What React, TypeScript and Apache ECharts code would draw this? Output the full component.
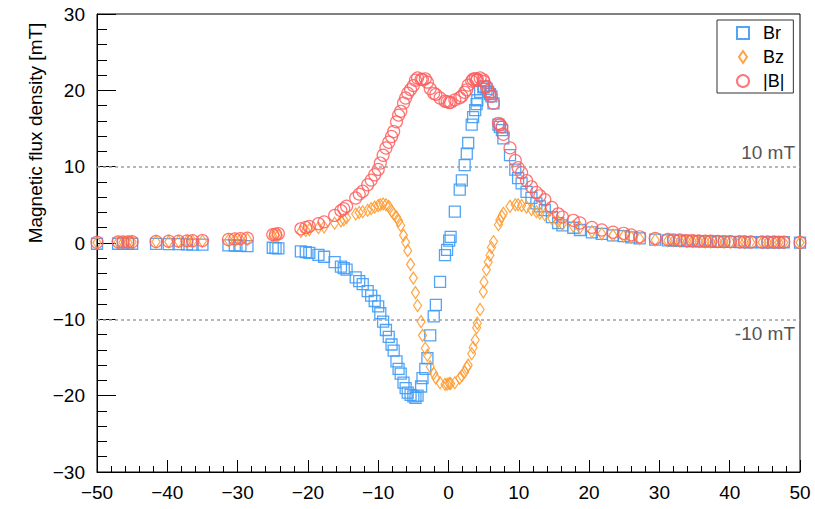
import React, { useEffect, useRef } from "react";
import * as echarts from "echarts";

const xs = [
  -50, -47.0, -46.3, -45.6, -45.0, -41.6, -39.8, -38.4, -37.2, -36.4, -35.0, -31.3, -30.4, -29.6, -28.6,
  -25.0, -24.6, -24.2, -21.0, -20.3, -19.8, -18.5, -17.7, -16.2, -15.3, -14.9, -14.5, -13.2, -12.7, -12.2,
  -11.5, -11.0, -10.5, -10.0, -9.7, -9.3, -8.9, -8.5, -8.1, -7.8, -7.4, -7.1, -6.8, -6.4, -6.1, -5.8, -5.4,
  -5.0, -4.7, -4.4, -3.9, -3.7, -3.3, -3.0, -2.6, -2.1, -1.8, -1.2, -0.5, -0.2, 0.1, 0.3, 0.9, 1.6, 1.9,
  2.3, 2.6, 2.8, 3.3, 3.5, 3.8, 4.0, 4.1, 4.5, 4.95, 5.05, 5.4, 5.65, 5.9, 6.1, 6.4, 7.1, 7.3, 7.6, 7.8,
  8.75, 9.5, 9.9, 10.4, 11.1, 11.8, 12.5, 13.0, 13.7, 14.7, 15.6, 16.2, 17.75, 18.7, 20.4, 21.8, 23.4,
  24.9, 26.0, 27.2, 29.4, 31.2, 32.0, 32.9, 33.9, 34.7, 35.6, 36.5, 37.3, 38.3, 39.2, 40.1, 41.4, 42.1,
  43.0, 44.6, 45.4, 46.3, 47.0, 47.7, 50,
];

const br = [
  -0.1, -0.1, -0.1, -0.1, -0.1, -0.12, -0.15, -0.15, -0.18, -0.2, -0.2, -0.3, -0.33, -0.36, -0.4,
  -0.62, -0.66, -0.7, -1.1, -1.2, -1.3, -1.55, -1.8, -2.5, -3.1, -3.3, -3.5, -4.5, -5.0, -5.4,
  -6.3, -6.9, -7.6, -8.3, -9.2, -10.3, -11.4, -12.3, -13.3, -14.1, -15.5, -16.5, -17.1, -18.3, -19.0, -19.6, -19.9,
  -20.1, -20.3, -20.0, -18.8, -17.7, -16.5, -15.1, -12.1, -9.6, -8.1, -5.1, -1.6, -0.9, 0.3, 0.8, 4.1, 7.0, 8.2,
  10.2, 11.7, 13.1, 15.5, 16.5, 17.4, 18.2, 18.7, 19.8, 20.4, 20.5, 20.2, 19.8, 19.5, 19.2, 18.3, 15.5, 15.2, 14.8, 13.7,
  11.5, 9.6, 8.5, 7.8, 6.7, 5.9, 5.2, 4.8, 4.3, 3.4, 2.6, 2.3, 2.0, 1.7, 1.4, 1.2, 1.0,
  0.9, 0.75, 0.6, 0.45, 0.35, 0.3, 0.3, 0.25, 0.25, 0.2, 0.2, 0.2, 0.15, 0.15, 0.15, 0.12, 0.12,
  0.1, 0.1, 0.1, 0.1, 0.1, 0.1, 0.05,
];

const bz = [
  0.05, 0.1, 0.1, 0.1, 0.12, 0.15, 0.18, 0.2, 0.22, 0.22, 0.25, 0.35, 0.4, 0.45, 0.5,
  0.9, 0.95, 1.0, 1.5, 1.65, 1.75, 2.0, 2.1, 2.6, 2.9, 3.05, 3.3, 3.8, 4.0, 4.1,
  4.3, 4.5, 4.7, 4.9, 5.0, 5.1, 5.0, 4.8, 4.2, 3.8, 3.4, 2.9, 2.3, 1.0, 0.1, -1.0, -2.8,
  -4.6, -6.5, -8.2, -10.3, -12.1, -13.8, -14.7, -16.2, -17.1, -17.7, -18.3, -18.5, -18.5, -18.4, -18.4, -18.3, -17.7, -17.4,
  -16.9, -16.3, -16.0, -14.5, -13.7, -12.7, -11.1, -10.5, -8.7, -6.4, -5.1, -3.5, -2.5, -1.6, -0.6, 0.2, 2.4, 3.0, 3.5, 3.9,
  4.8, 5.0, 5.0, 4.9, 4.7, 4.4, 4.1, 3.9, 3.7, 3.2, 2.8, 2.5, 2.2, 2.0, 1.5, 1.2, 1.0,
  0.9, 0.75, 0.55, 0.4, 0.3, 0.3, 0.25, 0.2, 0.2, 0.2, 0.15, 0.15, 0.15, 0.12, 0.1, 0.1, 0.1,
  0.1, 0.08, 0.08, 0.08, 0.07, 0.07, 0.05,
];

const bAbs = [
  0.1, 0.15, 0.15, 0.15, 0.16, 0.2, 0.23, 0.25, 0.28, 0.3, 0.32, 0.46, 0.52, 0.58, 0.64,
  1.1, 1.16, 1.22, 1.86, 2.04, 2.18, 2.53, 2.77, 3.61, 4.24, 4.49, 4.81, 5.89, 6.4, 6.78,
  7.63, 8.24, 8.94, 9.64, 10.47, 11.49, 12.45, 13.2, 13.95, 14.6, 15.87, 16.75, 17.25, 18.33, 19.0, 19.63, 20.1,
  20.62, 21.32, 21.62, 21.44, 21.44, 21.51, 21.07, 20.22, 19.61, 19.47, 19.0, 18.57, 18.52, 18.4, 18.42, 18.75, 19.03, 19.24,
  19.74, 20.07, 20.68, 21.22, 21.45, 21.54, 21.32, 21.45, 21.63, 21.38, 21.12, 20.5, 19.96, 19.57, 19.21, 18.3, 15.68, 15.49, 15.21, 14.24,
  12.46, 10.82, 9.86, 9.21, 8.18, 7.36, 6.62, 6.18, 5.67, 4.67, 3.82, 3.4, 2.97, 2.62, 2.05, 1.7, 1.41,
  1.27, 1.06, 0.81, 0.6, 0.46, 0.42, 0.39, 0.32, 0.32, 0.28, 0.25, 0.25, 0.21, 0.19, 0.18, 0.16, 0.16,
  0.14, 0.13, 0.13, 0.13, 0.12, 0.12, 0.07,
];

const xTicks = { min: -50, max: 50, interval: 10 };
const yTicks = { min: -30, max: 30, interval: 10 };
const refLines = [
  { value: 10, label: "10 mT" },
  { value: -10, label: "-10 mT" },
];
const yTitle = "Magnetic flux density [mT]";

const FONT = "'Liberation Sans', Arial, Helvetica, sans-serif";
const C_BR = "#3f9bf5";
const C_BZ = "#ff9a2e";
const C_B = "#ff5c5c";

const fmt = (v: number) => (v < 0 ? "\u2212" + Math.abs(v) : String(v));

export default function App() {
  const ref = useRef<HTMLDivElement>(null);
  useEffect(() => {
    if (!ref.current) return;
    const chart = echarts.init(ref.current, undefined, { renderer: "svg" });
    const axisCommon = {
      type: "value" as const,
      axisLine: { show: true, onZero: false, lineStyle: { color: "#000", width: 1 } },
      splitLine: { show: false },
      axisLabel: { color: "#000", fontSize: 19, fontFamily: FONT, formatter: fmt },
    };
    chart.setOption({
      animation: false,
      backgroundColor: "#fff",
      grid: {
        left: 97,
        right: 15,
        top: 14,
        bottom: 37,
        show: true,
        borderColor: "#000",
        borderWidth: 1,
        backgroundColor: "transparent",
        outerBoundsMode: "none",
      },
      xAxis: {
        ...axisCommon,
        ...xTicks,
        axisTick: { inside: true, length: 12, lineStyle: { color: "#000" } },
        minorTick: { show: true, splitNumber: 5, length: 6, lineStyle: { color: "#000" } },
        axisLabel: { ...axisCommon.axisLabel, margin: 11 },
      },
      yAxis: {
        ...axisCommon,
        ...yTicks,
        axisTick: { inside: true, length: 19, lineStyle: { color: "#000" } },
        minorTick: { show: true, splitNumber: 5, length: 10, lineStyle: { color: "#000" } },
        axisLabel: { ...axisCommon.axisLabel, margin: 12 },
      },
      legend: {
        data: [
          { name: "Br", icon: "rect" },
          { name: "Bz", icon: "path://M4,0L8,6L4,12L0,6Z" },
          { name: "|B|", icon: "circle" },
        ],
        orient: "vertical",
        left: 717,
        top: 20,
        itemWidth: 12,
        itemHeight: 12,
        itemGap: 6,
        padding: [4, 9, 3, 19],
        borderColor: "#333",
        borderWidth: 1,
        backgroundColor: "#fff",
        textStyle: { fontSize: 18, color: "#000", fontFamily: FONT, padding: [0, 0, 0, 9] },
      },
      graphic: [
        {
          type: "text",
          x: 35,
          y: 133,
          rotation: Math.PI / 2,
          style: {
            text: yTitle,
            fontSize: 19,
            fontFamily: FONT,
            fill: "#000",
            align: "center",
            verticalAlign: "middle",
          },
        },
      ],
      series: [
        {
          type: "scatter",
          name: "Br",
          data: xs.map((x, i) => [x, br[i]]),
          symbol: "rect",
          symbolSize: 11,
          itemStyle: { color: "rgba(0,0,0,0)", borderColor: C_BR, borderWidth: 1.3, opacity: 0.9 },
          markLine: {
            silent: true,
            symbol: ["none", "none"],
            lineStyle: { type: [3, 3], color: "#a0a0a0", width: 1.5 },
            label: { color: "#555", fontSize: 19, fontFamily: FONT },
            data: refLines.map((r) => ({
              yAxis: r.value,
              label: {
                formatter: r.label,
                position: r.value > 0 ? "insideEndTop" : "insideEndBottom",
              },
            })),
          },
          z: 2,
        },
        {
          type: "scatter",
          name: "Bz",
          data: xs.map((x, i) => [x, bz[i]]),
          symbol: "diamond",
          symbolSize: [8, 12],
          itemStyle: { color: "rgba(0,0,0,0)", borderColor: C_BZ, borderWidth: 1.2, opacity: 0.9 },
          z: 3,
        },
        {
          type: "scatter",
          name: "|B|",
          data: xs.map((x, i) => [x, bAbs[i]]),
          symbol: "circle",
          symbolSize: 12,
          itemStyle: { color: "rgba(0,0,0,0)", borderColor: C_B, borderWidth: 1.2, opacity: 0.85 },
          z: 4,
        },
      ],
    });
    return () => chart.dispose();
  }, []);
  return (
    <div
      ref={ref}
      style={{ position: "fixed", left: 0, top: 0, width: 815, height: 509, background: "#fff" }}
    />
  );
}
